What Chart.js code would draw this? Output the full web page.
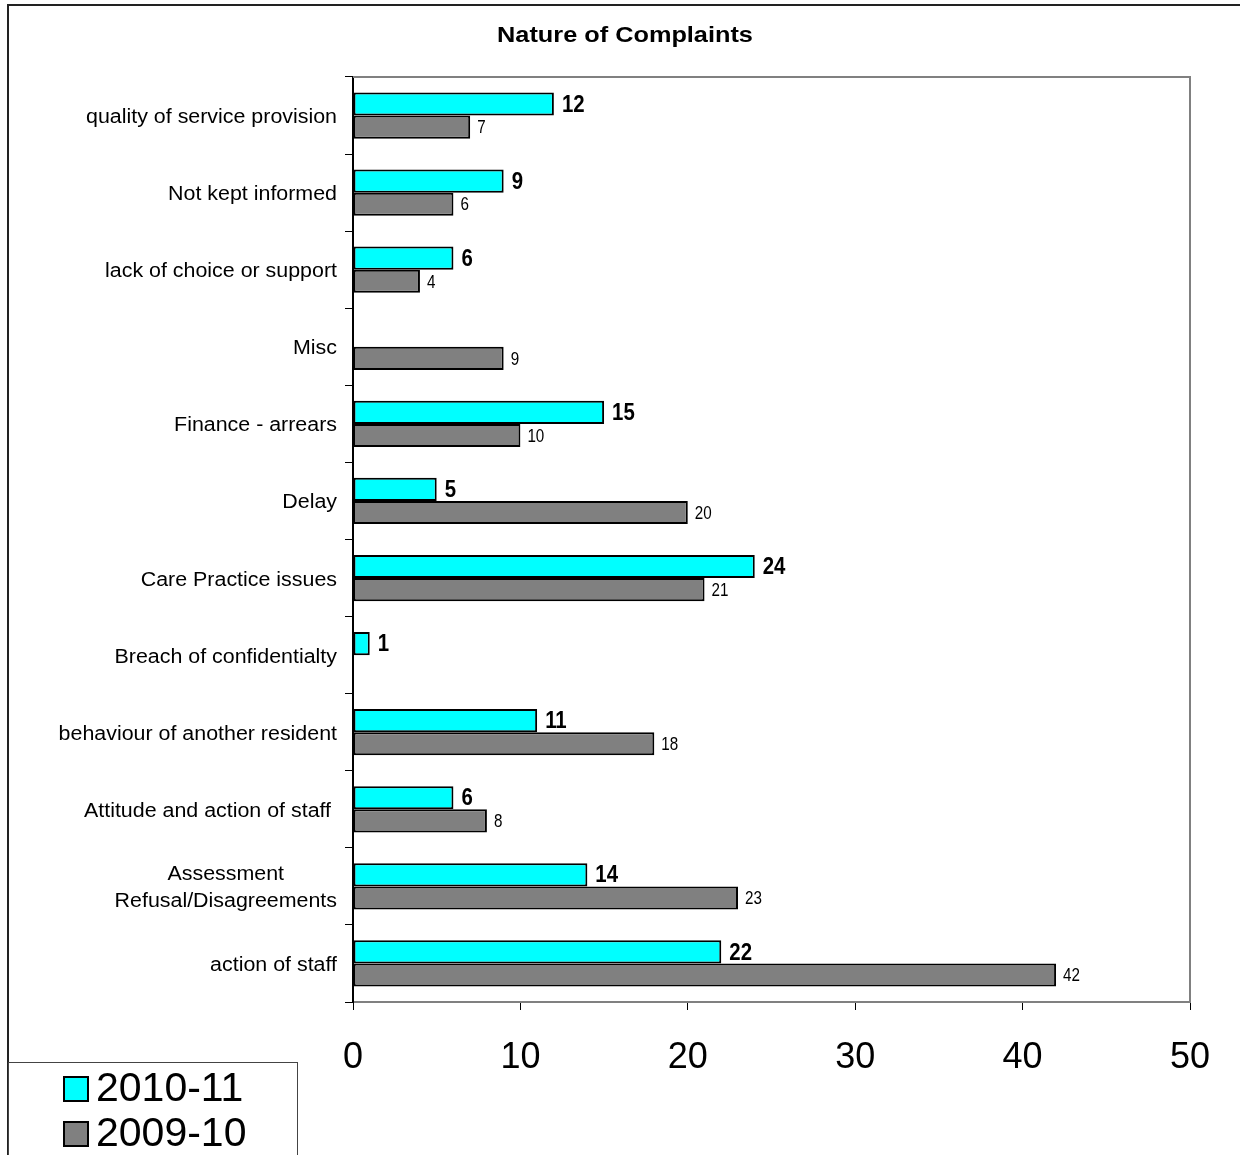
<!DOCTYPE html>
<html>
<head>
<meta charset="utf-8">
<script src="https://cdn.jsdelivr.net/npm/chart.js@4.4.0/dist/chart.umd.min.js"></script>
<style>
  html, body { margin: 0; padding: 0; background: #fff; }
  #wrap { width: 1240px; height: 1155px; position: relative; }
</style>
</head>
<body>
<div id="wrap"><canvas id="myChart" width="1240" height="1155"></canvas></div>
<script>
    // categorias (de cima para baixo)
    const categorias = [
        'quality of service provision',
        'Not kept informed',
        'lack of choice or support',
        'Misc',
        'Finance - arrears',
        'Delay',
        'Care Practice issues',
        'Breach of confidentialty',
        'behaviour of another resident',
        'Attitude and action of staff ',
        ['Assessment', 'Refusal/Disagreements'],
        'action of staff'
    ];

    const serie2010 = [12, 9, 6, null, 15, 5, 24, 1, 11, 6, 14, 22];
    const serie2009 = [7, 6, 4, 9, 10, 20, 21, null, 18, 8, 23, 42];

    const nomesSeries = ['2010-11', '2009-10'];
    const ticksX = [0, 10, 20, 30, 40, 50];

    const fonteArial = "'Liberation Sans', Arial, sans-serif";

    // escreve texto esticado/comprimido na horizontal
    function textoEscalado(ctx, txt, x, y, sx, alinhamento) {
        const w = ctx.measureText(txt).width * sx;
        let x0 = x;
        if (alinhamento == 'right') x0 = x - w;
        if (alinhamento == 'center') x0 = x - w / 2;
        ctx.save();
        ctx.translate(x0, y);
        ctx.scale(sx, 1);
        ctx.textAlign = 'left';
        ctx.fillText(txt, 0, 0);
        ctx.restore();
    }

    // plugin: moldura, titulo, rotulos e legenda
    const extras = {
        id: 'extras',
        beforeDraw(chart) {
            const ctx = chart.ctx;
            ctx.save();
            ctx.fillStyle = '#fff';
            ctx.fillRect(0, 0, chart.width, chart.height);
            ctx.restore();
        },
        afterDatasetsDraw(chart) {
            const ctx = chart.ctx;
            const area = chart.chartArea;
            ctx.save();
            // moldura da area do grafico (topo e direita)
            ctx.strokeStyle = '#808080';
            ctx.lineWidth = 2;
            ctx.beginPath();
            ctx.moveTo(area.left, area.top);
            ctx.lineTo(area.right, area.top);
            ctx.lineTo(area.right, area.bottom);
            ctx.stroke();

            // rotulos de dados
            ctx.fillStyle = '#000';
            ctx.textBaseline = 'middle';
            chart.data.datasets.forEach(function (ds, i) {
                const meta = chart.getDatasetMeta(i);
                meta.data.forEach(function (bar, j) {
                    const v = ds.data[j];
                    if (v == null) return;
                    if (i == 0) {
                        ctx.font = 'bold 24px ' + fonteArial;
                        textoEscalado(ctx, String(v), bar.x + 8, bar.y + 1, 0.85, 'left');
                    } else {
                        ctx.font = '19px ' + fonteArial;
                        textoEscalado(ctx, String(v), bar.x + 7, bar.y + 1, 0.8, 'left');
                    }
                });
            });

            // rotulos do eixo y
            const escalaY = chart.scales.y;
            ctx.font = '20px ' + fonteArial;
            chart.data.labels.forEach(function (lab, i) {
                const linhas = Array.isArray(lab) ? lab : [lab];
                const sx = 1.07;
                let larg = 0;
                linhas.forEach(function (l) { larg = Math.max(larg, ctx.measureText(l).width * sx); });
                const yc = escalaY.getPixelForTick(i) + 2;
                const passo = 27;
                const y0 = yc - (linhas.length - 1) * passo / 2;
                linhas.forEach(function (l, k) {
                    textoEscalado(ctx, l, 337 - larg / 2, y0 + k * passo, sx, 'center');
                });
            });
            ctx.restore();
        },
        afterDraw(chart) {
            const ctx = chart.ctx;
            ctx.save();
            // titulo
            ctx.fillStyle = '#000';
            ctx.font = 'bold 22px ' + fonteArial;
            ctx.textBaseline = 'middle';
            textoEscalado(ctx, 'Nature of Complaints', 625, 36, 1.15, 'center');

            // borda externa
            ctx.strokeStyle = '#222';
            ctx.lineWidth = 2;
            ctx.strokeRect(8, 5, 1240, 1160);

            // legenda
            ctx.fillStyle = '#fff';
            ctx.fillRect(8, 1062, 289, 100);
            ctx.strokeStyle = '#444';
            ctx.lineWidth = 1;
            ctx.strokeRect(8.5, 1062.5, 289, 100);
            const cores = ['#00FFFF', '#808080'];
            const ys = [1089, 1134];
            for (let k = 0; k < nomesSeries.length; k++) {
                ctx.fillStyle = cores[k];
                ctx.fillRect(64, ys[k] - 12, 24, 24);
                ctx.strokeStyle = '#000';
                ctx.lineWidth = 2;
                ctx.strokeRect(64, ys[k] - 12, 24, 24);
                ctx.fillStyle = '#000';
                ctx.font = '41px ' + fonteArial;
                ctx.textAlign = 'left';
                ctx.textBaseline = 'middle';
                ctx.fillText(nomesSeries[k], 96, ys[k] + 1);
            }
            ctx.restore();
        }
    };

    const dados = {
        labels: categorias,
        datasets: [
            {
                label: nomesSeries[0],
                data: serie2010,
                backgroundColor: '#00FFFF',
                borderColor: '#000',
                borderWidth: 2,
                borderSkipped: false,
                categoryPercentage: 0.6,
                barPercentage: 1.0
            },
            {
                label: nomesSeries[1],
                data: serie2009,
                backgroundColor: '#808080',
                borderColor: '#000',
                borderWidth: 2,
                borderSkipped: false,
                categoryPercentage: 0.6,
                barPercentage: 1.0
            }
        ]
    };

    const config = {
        type: 'bar',
        data: dados,
        plugins: [extras],
        options: {
            indexAxis: 'y',
            responsive: false,
            animation: false,
            layout: { padding: { left: 0, top: 77, right: 50, bottom: 0 } },
            plugins: {
                legend: { display: false },
                title: { display: false },
                tooltip: { enabled: false }
            },
            scales: {
                x: {
                    min: 0,
                    max: 50,
                    afterFit: function (scale) { scale.height = 153; },
                    afterBuildTicks: function (scale) {
                        scale.ticks = ticksX.map(function (v) { return { value: v }; });
                    },
                    grid: {
                        drawOnChartArea: false,
                        drawTicks: true,
                        tickLength: 8,
                        color: '#000',
                        lineWidth: 1
                    },
                    border: { color: '#808080', width: 2 },
                    ticks: {
                        color: '#000',
                        font: { size: 36, family: fonteArial },
                        padding: 26,
                        maxRotation: 0
                    }
                },
                y: {
                    afterFit: function (scale) { scale.width = 353; },
                    grid: {
                        drawOnChartArea: false,
                        drawTicks: true,
                        tickLength: 8,
                        color: '#000',
                        lineWidth: 1,
                        offset: true
                    },
                    border: { color: '#000', width: 2 },
                    ticks: {
                        display: false,
                        autoSkip: false
                    }
                }
            }
        }
    };

    const myChart = new Chart(document.getElementById('myChart'), config);
</script>
</body>
</html>
